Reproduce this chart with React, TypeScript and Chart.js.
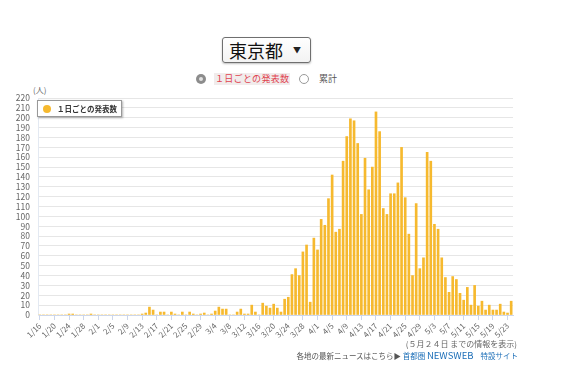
import React, { useEffect, useRef } from "react";
import { Chart, registerables } from "chart.js";

Chart.register(...registerables);

// ---- categories (announcement dates) ----
const janDates = ["1/16","1/17","1/18","1/19","1/20","1/21","1/22","1/23","1/24","1/25","1/26","1/27","1/28","1/29","1/30","1/31"];
const febDates = ["2/1","2/2","2/3","2/4","2/5","2/6","2/7","2/8","2/9","2/10","2/11","2/12","2/13","2/14","2/15","2/16","2/17","2/18","2/19","2/20","2/21","2/22","2/23","2/24","2/25","2/26","2/27","2/28","2/29"];
const marDates = ["3/1","3/2","3/3","3/4","3/5","3/6","3/7","3/8","3/9","3/10","3/11","3/12","3/13","3/14","3/15","3/16","3/17","3/18","3/19","3/20","3/21","3/22","3/23","3/24","3/25","3/26","3/27","3/28","3/29","3/30","3/31"];
const aprDates = ["4/1","4/2","4/3","4/4","4/5","4/6","4/7","4/8","4/9","4/10","4/11","4/12","4/13","4/14","4/15","4/16","4/17","4/18","4/19","4/20","4/21","4/22","4/23","4/24","4/25","4/26","4/27","4/28","4/29","4/30"];
const mayDates = ["5/1","5/2","5/3","5/4","5/5","5/6","5/7","5/8","5/9","5/10","5/11","5/12","5/13","5/14","5/15","5/16","5/17","5/18","5/19","5/20","5/21","5/22","5/23","5/24"];

// ---- daily announced cases ----
const janCases = [0,0,0,0,0,0,0,0,1,1,0,0,0,0,1,0];
const febCases = [0,0,0,0,0,0,0,0,0,0,0,0,1,2,8,5,0,3,3,0,3,1,0,3,0,3,1,0,1];
const marCases = [2,0,1,4,8,6,6,0,0,3,6,1,1,10,3,0,12,9,7,11,7,3,16,18,41,47,40,64,71,13,78];
const aprCases = [66,97,91,118,142,84,87,156,181,199,197,174,102,159,127,150,206,186,108,102,123,123,134,170,119,82,40,113,47,58];
const mayCases = [165,156,92,87,58,38,23,39,36,22,15,28,10,30,9,14,5,10,5,5,11,3,2,14];

// ---- tick labels shown on the x axis ----
const xTickLabels = ["1/16","1/20","1/24","1/28","2/1","2/5","2/9","2/13","2/17","2/21","2/25","2/29","3/4","3/8","3/12","3/16","3/20","3/24","3/28","4/1","4/5","4/9","4/13","4/17","4/21","4/25","4/29","5/3","5/7","5/11","5/15","5/19","5/23"];
const yMin = 0;
const yMax = 220;
const yStep = 10;

const seriesName = "１日ごとの発表数";

const dates = [...janDates, ...febDates, ...marDates, ...aprDates, ...mayDates];
const dailyCases = [...janCases, ...febCases, ...marCases, ...aprCases, ...mayCases];
const shownTicks = new Set(xTickLabels);

const BAR = "rgb(246,185,46)";
const FONT = '"Noto Sans CJK JP", "Noto Sans", sans-serif';

export default function App() {
  const ref = useRef<HTMLCanvasElement>(null);

  useEffect(() => {
    document.body.style.margin = "8px 8px 0 8px";
    const chart = new Chart(ref.current as HTMLCanvasElement, {
      type: "bar",
      data: {
        labels: dates,
        datasets: [
          {
            label: seriesName,
            data: dailyCases,
            backgroundColor: BAR,
            borderWidth: 0,
            barThickness: 2,
          },
        ],
      },
      options: {
        responsive: false,
        animation: false,
        layout: { padding: { top: 13, right: 43, left: 0, bottom: 0 } },
        plugins: { legend: { display: false }, tooltip: { enabled: false } },
        scales: {
          x: {
            offset: true,
            grid: {
              drawOnChartArea: false,
              drawTicks: true,
              tickLength: 5,
              offset: false,
              color: (c: any) => (shownTicks.has(dates[c.index]) ? "#ccd6eb" : "rgba(0,0,0,0)"),
            },
            border: { display: true, color: "#ccd6eb" },
            ticks: {
              autoSkip: false,
              minRotation: 45,
              maxRotation: 45,
              padding: 1,
              color: "#666",
              font: { size: 8, family: FONT },
              callback: (_v: any, i: number) => (shownTicks.has(dates[i]) ? dates[i] : ""),
            },
            afterFit: (s: any) => {
              s.height = 30;
            },
          },
          y: {
            min: yMin,
            max: yMax,
            ticks: {
              stepSize: yStep,
              autoSkip: false,
              padding: 8,
              color: "#666",
              font: { size: 8.5, family: FONT },
            },
            grid: { color: "#e6e6e6", drawTicks: false },
            border: { display: true, color: "#e3e9f2" },
            afterFit: (s: any) => {
              s.width = 30;
            },
          },
        },
      },
    });
    return () => chart.destroy();
  }, []);

  const radio = (checked: boolean): React.CSSProperties => ({
    position: "absolute",
    width: 10,
    height: 10,
    borderRadius: "50%",
    boxSizing: "border-box",
    border: checked ? "none" : "1px solid #9a9a9a",
    background: checked ? "#8c8c8c" : "#fff",
  });

  return (
    <div style={{ position: "relative", width: 548, height: 357, fontFamily: FONT }}>
      {/* prefecture select */}
      <div
        style={{
          position: "absolute",
          left: 214,
          top: 29,
          width: 89,
          height: 26,
          boxSizing: "border-box",
          border: "1px solid #6f6f6f",
          borderRadius: 3,
          background: "linear-gradient(#ffffff, #f3f3f3)",
          boxShadow: "0 1px 2px rgba(0,0,0,0.25)",
        }}
      >
        <span style={{ position: "absolute", left: 6, top: 1, fontSize: 18, lineHeight: "22px", color: "#111" }}>東京都</span>
        <span style={{ position: "absolute", right: 9, top: 7, fontSize: 8, lineHeight: "10px", color: "#222" }}>▼</span>
      </div>

      {/* radio row */}
      <div style={{ ...radio(true), left: 188, top: 66 }}>
        <div style={{ position: "absolute", left: 3, top: 3, width: 4, height: 4, borderRadius: "50%", background: "#e2e2e2" }} />
      </div>
      <span
        style={{
          position: "absolute",
          left: 206,
          top: 65,
          fontSize: 9,
          lineHeight: "12px",
          letterSpacing: 0.3,
          color: "#e0434f",
          background: "#f1ecec",
          padding: "0 1px",
        }}
      >
        {seriesName}
      </span>
      <div style={{ ...radio(false), left: 291, top: 66 }} />
      <span style={{ position: "absolute", left: 311, top: 65, fontSize: 9, lineHeight: "12px", color: "#555" }}>累計</span>

      {/* unit label */}
      <span style={{ position: "absolute", left: 25, top: 77, fontSize: 8, lineHeight: "10px", color: "#666" }}>(人)</span>

      {/* chart */}
      <canvas ref={ref} width={548} height={260} style={{ position: "absolute", left: 0, top: 77, width: 548, height: 260 }} />

      {/* legend box */}
      <div
        style={{
          position: "absolute",
          left: 29,
          top: 92,
          width: 85,
          height: 17,
          boxSizing: "border-box",
          border: "1px solid #999",
          background: "#fff",
          boxShadow: "1px 1px 2px rgba(0,0,0,0.3)",
        }}
      >
        <div style={{ position: "absolute", left: 5, top: 3.5, width: 8, height: 8, borderRadius: "50%", background: BAR }} />
        <span style={{ position: "absolute", left: 19, top: 2, fontSize: 7.5, lineHeight: "11px", fontWeight: 700, color: "#333", whiteSpace: "nowrap" }}>
          {seriesName}
        </span>
      </div>

      {/* footer */}
      <div style={{ position: "absolute", right: 39, top: 331, fontSize: 8, lineHeight: "10px", color: "#666", whiteSpace: "nowrap" }}>
        (５月２４日 までの情報を表示)
      </div>
      <div style={{ position: "absolute", right: 38, top: 342, fontSize: 7.5, lineHeight: "10px", color: "#555", whiteSpace: "nowrap" }}>
        各地の最新ニュースはこちら▶ <span style={{ color: "#1d6fb8" }}>首都圏 <span style={{ fontSize: 9.5 }}>NEWSWEB</span></span>
        <span style={{ color: "#1d6fb8", marginLeft: 7 }}>特設サイト</span>
      </div>
    </div>
  );
}
